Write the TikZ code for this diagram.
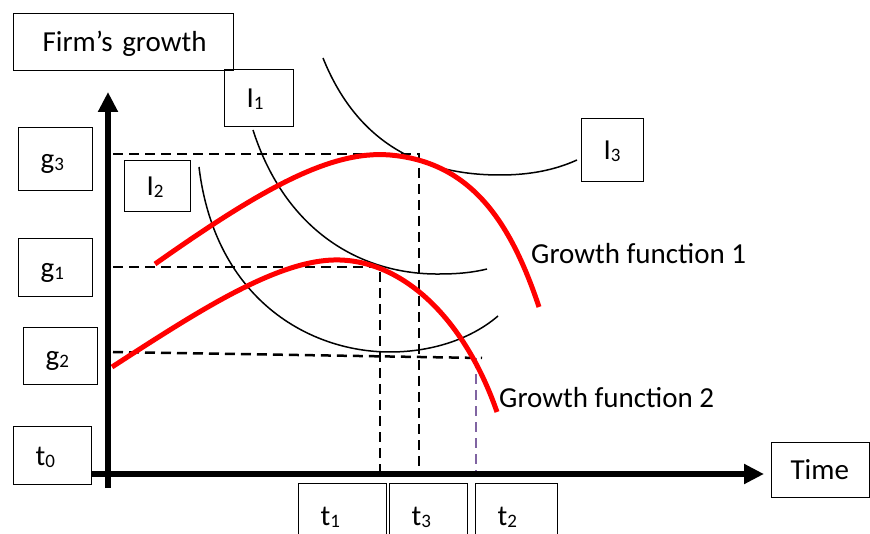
\documentclass[tikz,border=0pt]{standalone}
\usepackage{fontspec}
\setmainfont{Carlito}
\usetikzlibrary{arrows.meta}
\definecolor{gfred}{RGB}{255,0,0}
\definecolor{tpurple}{RGB}{128,100,162}
\newcommand{\lowsub}[1]{\raisebox{-2pt}{\fontsize{19}{19}\selectfont #1}}
\tikzset{
    >={Triangle[width=19pt,length=20pt]},
    axis/.style={line width=6pt, ->},
    guide/.style={line width=2.5pt, dash pattern=on 10pt off 6pt},
    tguide/.style={guide, draw=tpurple},
    growthcurve/.style={line width=5pt, draw=gfred},
    indiff/.style={line width=1.5pt},
    tbox/.style={draw, line width=1.2pt, anchor=north west, inner xsep=22pt, inner ysep=0pt, align=left, text height=19pt, text depth=0pt}
}

\begin{document}
\begin{tikzpicture}[x=1pt, y=-1pt, font=\fontsize{29}{35}\selectfont]
    \useasboundingbox (0,0) rectangle (870,534);
    \clip (0,0) rectangle (870,534);

    % axis points
    \coordinate (O) at (108,474);
    \coordinate (ytop) at (108,92);
    \coordinate (ybot) at (108,488);
    \coordinate (xleft) at (91,474);
    \coordinate (xtip) at (764,474);

    % levels and tangency points
    \coordinate (a3) at (113,154);
    \coordinate (a1) at (113,267);
    \coordinate (a2) at (113,352);
    \coordinate (T3) at (419,154);
    \coordinate (T1) at (380,267);
    \coordinate (T2) at (476,358);
    \coordinate (e2) at (482,358);

    \draw[guide] (a3) -- (T3) -- (T3 |- O);
    \draw[guide] (a1) -- (T1) -- (T1 |- O);
    \draw[guide] (a2) -- (e2);
    \draw[tguide] (T2) -- (T2 |- O);

    % indifference curves
    \draw[indiff] (253,130) .. controls (285,230) and (360,275) .. (440,274)
                            .. controls (460,274) and (475,272) .. (487,269);
    \draw[indiff] (199,167) .. controls (215,300) and (310,352) .. (390,352)
                            .. controls (430,352) and (470,340) .. (498,316);
    \draw[indiff] (323,58) .. controls (360,150) and (430,175) .. (500,175)
                           .. controls (530,175) and (555,170) .. (577,160);

    % growth functions
    \draw[growthcurve] (155,264) .. controls (260,190) and (330,150) .. (390,155)
                                 .. controls (470,162) and (510,220) .. (539,307);
    \draw[growthcurve] (112,367) .. controls (200,310) and (280,258) .. (340,260)
                                 .. controls (405,262) and (465,320) .. (497,412);

    \draw[axis] (ybot) -- (ytop);
    \draw[axis] (xleft) -- (xtip);

    % boxes
    \node[tbox, text width=170pt, minimum height=57pt, inner xsep=25pt] (growth) at (13,13) {\hspace*{4pt}Firm’s growth};
    \node[tbox, text width=25pt, minimum height=57pt] (I1) at (224,69) {I\lowsub{1}};
    \node[tbox, text width=30pt, minimum height=63pt] (g3) at (18,127) {g\lowsub{3}};
    \node[tbox, text width=22pt, minimum height=51pt] (I2) at (124,160) {I\lowsub{2}};
    \node[tbox, text width=18pt, minimum height=63pt] (I3) at (581,118) {I\lowsub{3}};
    \node[tbox, text width=30pt, minimum height=58pt] (g1) at (18,238) {g\lowsub{1}};
    \node[tbox, text width=30pt, minimum height=57pt] (g2) at (23,327) {g\lowsub{2}};
    \node[tbox, text width=34pt, minimum height=58pt] (t0) at (13,426) {t\lowsub{0}};
    \node[tbox, text width=44pt, minimum height=64pt] (t1) at (298,483) {t\lowsub{1}};
    \node[tbox, text width=34pt, minimum height=64pt] (t3) at (389,483) {t\lowsub{3}};
    \node[tbox, text width=38pt, minimum height=64pt] (t2) at (475,483) {t\lowsub{2}};
    \node[tbox, text width=60pt, minimum height=55pt, inner xsep=19pt] (time) at (771,442) {Time};

    \node[anchor=base west, inner sep=0pt] (gf1) at (531,264) {Growth function 1};
    \node[anchor=base west, inner sep=0pt] (gf2) at (499,407) {Growth function 2};
\end{tikzpicture}
\end{document}
